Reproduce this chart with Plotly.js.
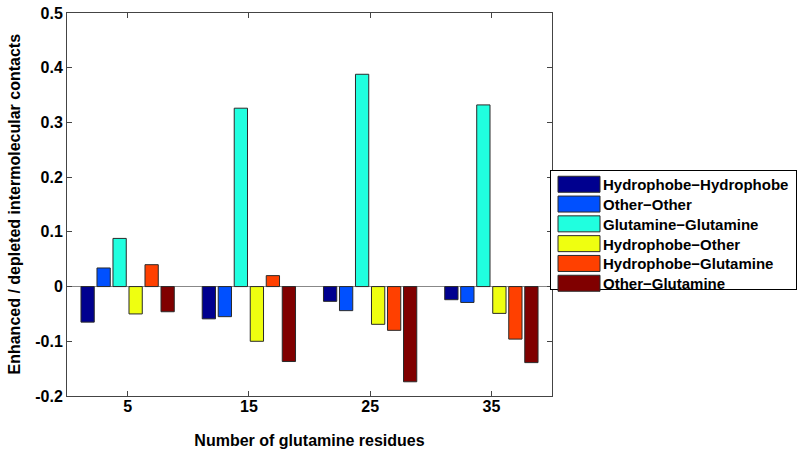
<!DOCTYPE html>
<html>
<head>
<meta charset="utf-8">
<script src="https://cdn.plot.ly/plotly-3.0.1.min.js"></script>
<style>html,body{margin:0;padding:0;background:#fff;}#chart{width:800px;height:452px;}</style>
</head>
<body>
<div id="chart"></div>
<script>
const groups = [5, 15, 25, 35];
const seriesNames = ["Hydrophobe\u2212Hydrophobe", "Other\u2212Other", "Glutamine\u2212Glutamine", "Hydrophobe\u2212Other", "Hydrophobe\u2212Glutamine", "Other\u2212Glutamine"];
const hydHyd = [-0.065, -0.059, -0.027, -0.024];
const othOth = [0.034, -0.055, -0.044, -0.029];
const gluGlu = [0.088, 0.326, 0.388, 0.332];
const hydOth = [-0.050, -0.100, -0.069, -0.049];
const hydGlu = [0.040, 0.020, -0.080, -0.096];
const othGlu = [-0.046, -0.137, -0.174, -0.139];
const seriesValues = [hydHyd, othOth, gluGlu, hydOth, hydGlu, othGlu];
const colors = ["#00008F", "#0050FF", "#20FFDF", "#EFFF10", "#FF4000", "#800000"];
const yTickVals = [-0.2, -0.1, 0, 0.1, 0.2, 0.3, 0.4, 0.5];
const yTickText = ["-0.2", "-0.1", "0", "0.1", "0.2", "0.3", "0.4", "0.5"];

const FONT = "Liberation Sans, Arial, Helvetica, sans-serif";
const traces = seriesValues.map((vals, i) => ({
  type: "bar",
  name: seriesNames[i],
  x: groups,
  y: vals,
  marker: {color: colors[i], line: {color: "#2a2a2a", width: 1}},
  hoverinfo: "skip"
}));

const layout = {
  width: 800, height: 452,
  margin: {l: 67, r: 248, t: 13, b: 56, autoexpand: false},
  paper_bgcolor: "#fff", plot_bgcolor: "#fff",
  barmode: "group", bargap: 0.208, bargroupgap: 0.17,
  font: {family: FONT, size: 16, color: "#000", weight: "bold"},
  showlegend: true,
  legend: {
    xref: "container", yref: "container",
    x: 550 / 800, y: 1 - 170 / 452, xanchor: "left", yanchor: "top",
    bgcolor: "#fff", bordercolor: "#000", borderwidth: 1,
    font: {family: FONT, size: 15, color: "#000", weight: "bold"},
    itemwidth: 42, tracegroupgap: 0
  },
  xaxis: {
    range: [0, 40], tickvals: groups, ticktext: groups.map(String),
    ticks: "inside", ticklen: 5, tickcolor: "#444", ticklabelstandoff: -4,
    showline: true, linecolor: "#444", linewidth: 1, mirror: "ticks",
    showgrid: false, zeroline: false,
    tickfont: {family: FONT, size: 16, weight: "bold"},
    title: {text: "Number of glutamine residues", font: {family: FONT, size: 16, weight: "bold"}, standoff: 20}
  },
  yaxis: {
    range: [-0.2, 0.5], tickvals: yTickVals, ticktext: yTickText,
    ticks: "inside", ticklen: 5, tickcolor: "#444",
    showline: true, linecolor: "#444", linewidth: 1, mirror: "ticks",
    showgrid: false, zeroline: true, zerolinecolor: "#888", zerolinewidth: 1,
    tickfont: {family: FONT, size: 16, weight: "bold"}
  },
  annotations: [{
    text: "Enhanced / depleted intermolecular contacts",
    xref: "paper", yref: "paper", x: (14 - 67) / 485, y: 0.5,
    xanchor: "center", yanchor: "middle", textangle: -90, showarrow: false,
    font: {family: FONT, size: 16, weight: "bold", color: "#000"}
  }]
};

Plotly.newPlot("chart", traces, layout, {displayModeBar: false, staticPlot: true}).then(function(gd) {
  const rowStep = 19.8;
  const items = gd.querySelectorAll(".legend .traces");
  let y0 = null;
  items.forEach(function(t, i) {
    const m = /translate\(([-\d.]+),\s*([-\d.]+)\)/.exec(t.getAttribute("transform") || "");
    if (m) {
      if (y0 === null) y0 = parseFloat(m[2]) - 3;
      t.setAttribute("transform", "translate(" + m[1] + "," + (y0 + i * rowStep) + ")");
    }
  });
  gd.querySelectorAll(".legend .legendpoints path").forEach(function(p) {
    p.setAttribute("d", "M23,8H-19V-8H23Z");
  });
  const bg = gd.querySelector(".legend rect.bg");
  if (bg) {
    bg.setAttribute("width", 246);
    bg.setAttribute("height", 119);
  }
});
</script>
</body>
</html>
